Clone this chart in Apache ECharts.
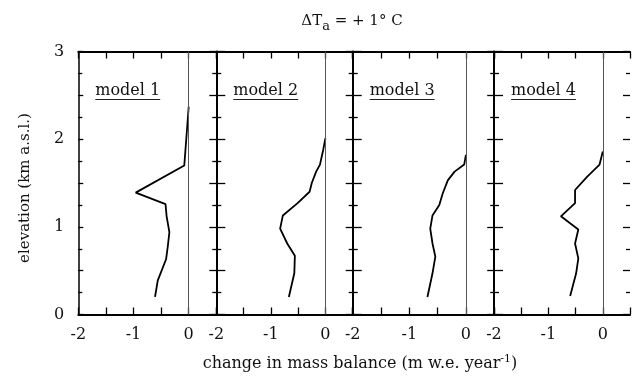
<!DOCTYPE html>
<html><head><meta charset="utf-8">
<script src="https://cdn.jsdelivr.net/npm/echarts@6/dist/echarts.min.js"></script>
<style>html,body{margin:0;padding:0;background:#fff}#c{width:633px;height:380px}</style>
</head><body><div id="c"></div>
<script>
// ---- data ----
const modelNames = ['model 1', 'model 2', 'model 3', 'model 4'];
const xTickLabels = [-2, -1, 0];
const yTickLabels = [0, 1, 2, 3];

const model1Change = [0, -0.08, -0.96, -0.42, -0.40, -0.35, -0.38, -0.41, -0.56, -0.61];
const model1Elev   = [2.37, 1.70, 1.39, 1.26, 1.12, 0.94, 0.77, 0.63, 0.39, 0.20];

const model2Change = [0, -0.04, -0.10, -0.17, -0.25, -0.29, -0.51, -0.78, -0.83, -0.70, -0.56, -0.57, -0.67];
const model2Elev   = [2.01, 1.88, 1.71, 1.63, 1.50, 1.40, 1.27, 1.13, 0.98, 0.81, 0.67, 0.47, 0.20];

const model3Change = [0, -0.03, -0.20, -0.32, -0.41, -0.47, -0.59, -0.63, -0.59, -0.54, -0.59, -0.68];
const model3Elev   = [1.82, 1.71, 1.63, 1.53, 1.38, 1.25, 1.13, 0.98, 0.81, 0.66, 0.47, 0.20];

const model4Change = [0, -0.06, -0.29, -0.51, -0.51, -0.77, -0.45, -0.51, -0.45, -0.49, -0.60];
const model4Elev   = [1.86, 1.71, 1.57, 1.42, 1.27, 1.12, 0.97, 0.81, 0.64, 0.47, 0.21];

const changes = [model1Change, model2Change, model3Change, model4Change];
const elevs = [model1Elev, model2Elev, model3Elev, model4Elev];

// ---- layout ----
const FONT = '"DejaVu Serif", serif';
const panels = [
  {left: 78.3, width: 138},
  {left: 216.3, width: 136.4},
  {left: 352.7, width: 141.5},
  {left: 494, width: 140}
];
const gridTop = 51.5, gridHeight = 263;

const grid = [], xAxis = [], yAxis = [], series = [], graphic = [];
const black = '#111';

panels.forEach((p, i) => {
  grid.push({left: p.left, top: gridTop, width: p.width, height: gridHeight, containLabel: false});
  // bottom x axis
  xAxis.push({
    gridIndex: i, type: 'value', position: 'bottom', min: -2, max: 0.5, interval: 0.5,
    axisLine: {show: true, onZero: false, lineStyle: {color: '#000', width: 2}},
    axisTick: {show: true, inside: true, length: 7, lineStyle: {color: '#000', width: 1.3}},
    axisLabel: {
      show: true, margin: 12, fontFamily: FONT, fontSize: 16, color: black,
      showMinLabel: true, showMaxLabel: true,
      formatter: v => xTickLabels.includes(v) ? String(v) : ''
    },
    splitLine: {show: false}
  });
  // top x axis
  xAxis.push({
    gridIndex: i, type: 'value', position: 'top', min: -2, max: 0.5, interval: 0.5,
    axisLine: {show: true, onZero: false, lineStyle: {color: '#000', width: 2}},
    axisTick: {show: true, inside: true, length: 7, lineStyle: {color: '#000', width: 1.3}},
    axisLabel: {show: false},
    splitLine: {show: false}
  });
  // left y axis
  yAxis.push({
    gridIndex: i, type: 'value', position: 'left', min: 0, max: 3, interval: 0.5,
    axisLine: {show: true, onZero: false, lineStyle: {color: '#000', width: i === 0 ? 1.5 : 2}},
    axisTick: {show: true, inside: true, length: i === 0 ? 5 : 9, lineStyle: {color: '#000', width: 1.3}},
    minorTick: {show: true, splitNumber: 2, length: i === 0 ? 4 : 5, lineStyle: {color: '#000', width: 1.3}},
    axisLabel: {
      show: i === 0, margin: 14, fontFamily: FONT, fontSize: 16, color: black,
      formatter: v => yTickLabels.includes(v) ? String(v) : ''
    },
    splitLine: {show: false}
  });
  // right y axis
  yAxis.push({
    gridIndex: i, type: 'value', position: 'right', min: 0, max: 3, interval: 0.5,
    axisLine: {show: false, onZero: false},
    axisTick: {show: true, inside: true, length: 7, lineStyle: {color: '#000', width: 1.3}},
    minorTick: {show: true, splitNumber: 2, length: 4, lineStyle: {color: '#000', width: 1.3}},
    axisLabel: {show: false},
    splitLine: {show: false}
  });
  series.push({
    type: 'line', name: modelNames[i],
    xAxisIndex: 2 * i, yAxisIndex: 2 * i,
    data: changes[i].map((c, k) => [c, elevs[i][k]]),
    symbol: 'none', smooth: false, silent: true,
    lineStyle: {color: '#000', width: 1.8},
    markLine: {
      silent: true, symbol: ['none', 'none'],
      label: {show: false},
      lineStyle: {color: '#555', width: 1, type: 'solid'},
      data: [{xAxis: 0}]
    }
  });
});

// model labels with underline
const ctx = document.createElement('canvas').getContext('2d');
ctx.font = '16px "DejaVu Serif"';
panels.forEach((p, i) => {
  const x = p.left + 17;
  const w = ctx.measureText(modelNames[i]).width;
  graphic.push({
    type: 'text', x: x, y: 91, silent: true,
    style: {text: modelNames[i], font: '16px ' + FONT, fill: black,
            textAlign: 'left', textVerticalAlign: 'middle', align: 'left', verticalAlign: 'middle'}
  });
  graphic.push({
    type: 'line', silent: true,
    shape: {x1: x, y1: 99.5, x2: x + w, y2: 99.5},
    style: {stroke: '#222', lineWidth: 1}
  });
});

// title
graphic.push({
  type: 'text', x: 352, y: 21, silent: true,
  style: {
    text: '{a|ΔT}{s|a}{a| = + 1° C}',
    textAlign: 'center', textVerticalAlign: 'middle', align: 'center', verticalAlign: 'middle',
    rich: {
      a: {fontFamily: FONT, fontSize: 15, fill: black, lineHeight: 18},
      s: {fontFamily: FONT, fontSize: 13, fill: black, lineHeight: 14, padding: [12, 0, 0, 0]}
    }
  }
});
// x axis name
graphic.push({
  type: 'text', x: 360, y: 364, silent: true,
  style: {
    text: '{a|change in mass balance (m w.e. year}{p|-1}{a|)}',
    textAlign: 'center', textVerticalAlign: 'middle', align: 'center', verticalAlign: 'middle',
    rich: {
      a: {fontFamily: FONT, fontSize: 16, fill: black, lineHeight: 18},
      p: {fontFamily: FONT, fontSize: 11, fill: black, lineHeight: 12, padding: [0, 0, 10, 0]}
    }
  }
});
// y axis name
graphic.push({
  type: 'text', x: 25, y: 188, rotation: Math.PI / 2, silent: true,
  style: {
    text: 'elevation (km a.s.l.)', font: '15px ' + FONT, fill: black,
    textAlign: 'center', textVerticalAlign: 'middle', align: 'center', verticalAlign: 'middle'
  }
});

const chart = echarts.init(document.getElementById('c'), null, {renderer: 'canvas'});
chart.setOption({
  animation: false,
  backgroundColor: '#fff',
  grid, xAxis, yAxis, series, graphic
});
</script>
</body></html>
